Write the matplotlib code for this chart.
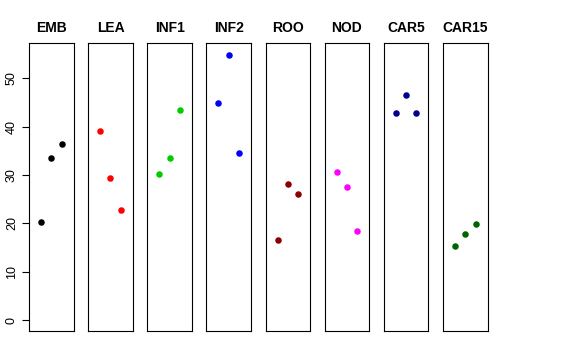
import matplotlib
matplotlib.use("Agg")
import matplotlib.pyplot as plt

plt.rcParams['font.family'] = ['Liberation Sans', 'DejaVu Sans']

# Groups and their three measurements each
groups = ['EMB', 'LEA', 'INF1', 'INF2', 'ROO', 'NOD', 'CAR5', 'CAR15']
values = [
    [20.2, 33.5, 36.3],
    [39.1, 29.3, 22.7],
    [30.2, 33.4, 43.4],
    [44.8, 54.8, 34.5],
    [16.5, 28.2, 26.0],
    [30.7, 27.5, 18.5],
    [42.8, 46.6, 42.8],
    [15.3, 17.7, 19.8],
]
colors = ['black', 'red', '#00CD00', 'blue', '#8B0000', 'magenta', '#00008B', '#006400']
positions = [1, 2, 3]
ymax = 55

fig = plt.figure(figsize=(5.76, 3.6), dpi=100)
W, H = 576.0, 360.0
left0, step, width = 29.0, 59.14, 44.6
top, bottom = 43.3, 330.7

for i, (g, v, c) in enumerate(zip(groups, values, colors)):
    x0 = left0 + step * i
    ax = fig.add_axes([x0 / W, (H - bottom) / H, width / W, (bottom - top) / H])
    ax.scatter(positions, v, s=22, color=c, zorder=3, linewidths=0)
    # R-style 4% padding around 0..4 and 0..ymax
    ax.set_xlim(-0.16, 4.16)
    ax.set_ylim(-ymax * 0.04, ymax * 1.04)
    ax.set_xticks([])
    ax.set_title(g, fontsize=10, fontweight='bold', pad=8)
    for s in ax.spines.values():
        s.set_linewidth(0.8)
        s.set_color('black')
    if i == 0:
        ax.set_yticks([0, 10, 20, 30, 40, 50])
        ax.tick_params(axis='y', length=5, width=0.8, labelsize=9, pad=3)
        for lab in ax.get_yticklabels():
            lab.set_rotation(90)
            lab.set_va('center')
    else:
        ax.set_yticks([])

fig.savefig('out.png', dpi=100)
